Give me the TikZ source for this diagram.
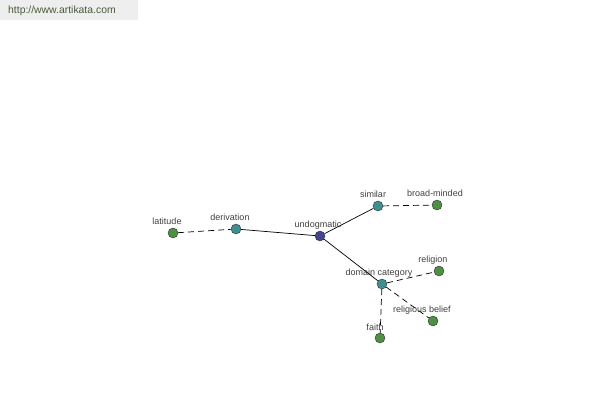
\documentclass[tikz,border=0pt]{standalone}
\usepackage{fontspec}
\setmainfont{Liberation Sans}
\begin{document}
\begin{tikzpicture}[x=1pt,y=-1pt,
  dot/.style={circle,draw=black!80,line width=0.4pt,minimum size=10pt,inner sep=0pt},
  gdot/.style={dot,fill=leafgreen},
  tdot/.style={dot,fill=tealc},
  bdot/.style={dot,fill=bluec},
  lbl/.style={font=\fontsize{9}{10}\selectfont,text=black!75,inner sep=1pt},
  solidedge/.style={draw=black,line width=0.7pt},
  dashedge/.style={draw=black,line width=0.7pt,dash pattern=on 6pt off 4pt}]
\definecolor{leafgreen}{HTML}{4E8F44}
\definecolor{tealc}{HTML}{3F8F8F}
\definecolor{bluec}{HTML}{44448F}
\definecolor{hdrgray}{HTML}{EEEEEE}
\definecolor{hdrtext}{HTML}{4A5A3A}
\useasboundingbox[fill=white] (0,0) rectangle (600,400);
\fill[hdrgray] (0,0) rectangle (138,20);
\node[anchor=west,font=\fontsize{10.4}{11}\selectfont,text=hdrtext,inner sep=0pt] (hdr) at (8,11) {http://www.artikata.com};

\node[gdot] (lat) at (173,233) {};
\node[tdot] (der) at (236,229) {};
\node[bdot] (und) at (320,236) {};
\node[tdot] (sim) at (378,206) {};
\node[gdot] (brd) at (437,205) {};
\node[tdot] (dom) at (382,284) {};
\node[gdot] (rel) at (439,271) {};
\node[gdot] (rbl) at (433,321) {};
\node[gdot] (fai) at (380,338) {};

\node[lbl] (llat) at (167,221) {latitude};
\node[lbl] (lder) at (230,217) {derivation};
\node[lbl] (lund) at (318,225) {undogmatic};
\node[lbl] (lsim) at (373,194) {similar};
\node[lbl] (lbrd) at (435,193) {broad-minded};
\node[lbl] (ldom) at (379,273) {domain category};
\node[lbl] (lrel) at (433,260) {religion};
\node[lbl] (lrbl) at (422,310) {religious belief};
\node[lbl] (lfai) at (375,327) {faith};

\path[solidedge] (der) -- (und);
\path[solidedge] (und) -- (sim);
\path[solidedge] (und) -- (dom);
\path[dashedge] (lat) -- (der);
\path[dashedge] (sim) -- (brd);
\path[dashedge] (dom) -- (rel);
\path[dashedge] (dom) -- (rbl);
\path[dashedge] (dom) -- (fai);
\end{tikzpicture}
\end{document}
